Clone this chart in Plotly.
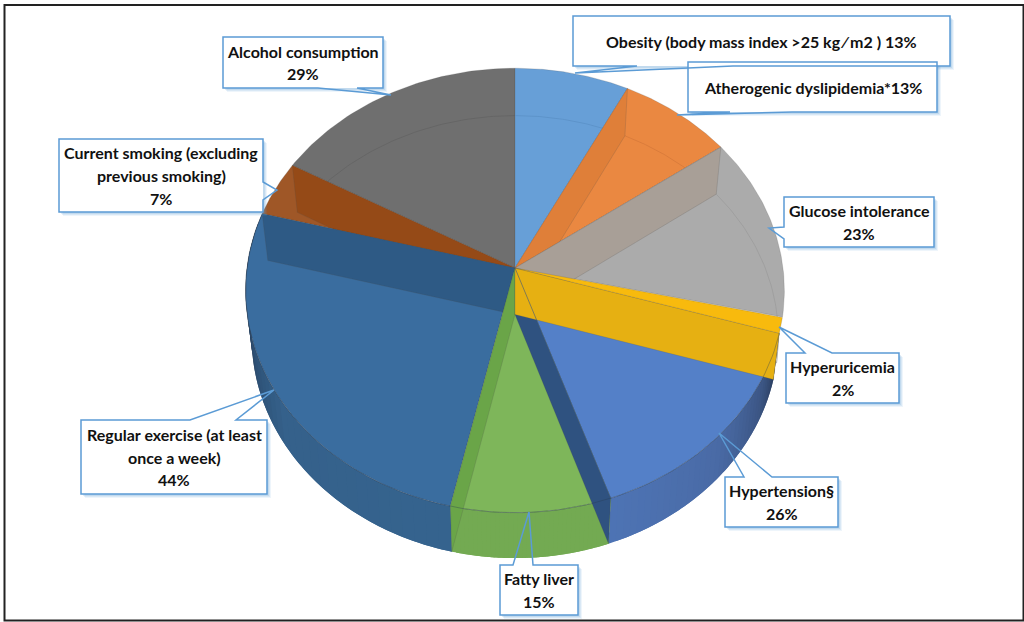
import numpy as np
import plotly.graph_objects as go

# ---------- data ----------
CATEGORIES = ["Obesity", "Atherogenic dyslipidemia", "Glucose intolerance", "Hyperuricemia",
              "Hypertension", "Fatty liver", "Regular exercise", "Current smoking",
              "Alcohol consumption"]
VALUES = [13, 13, 23, 2, 26, 15, 44, 7, 29]
LABEL_LINES = [
    ["Obesity (body mass index >25 kg \u2044 m2 ) 13%"],
    ["Atherogenic dyslipidemia*13%"],
    ["Glucose intolerance", "23%"],
    ["Hyperuricemia", "2%"],
    ["Hypertension\u00a7", "26%"],
    ["Fatty liver", "15%"],
    ["Regular exercise (at least", "once a week)", "44%"],
    ["Current smoking (excluding", "previous smoking)", "7%"],
    ["Alcohol consumption", "29%"],
]

# ---------- styles ----------
FACE = ["#679FD7", "#EA8841", "#ABABAB", "#F8BA0D", "#5480C8", "#7EB65A", "#3A6D9F", "#9F5727", "#6F6F6F"]
STRIP = [None, "#DF7F39", "#A89F97", "#E6B012", "#2F5280", "#6AA548", "#2E5A85", "#954A17", None]
ARC = {0: "#5A90C6", 1: "#D6783A", 2: "#9C9C9C", 8: "#636363"}
WALL = {
    4: [(106.7, "#2B3F60"), (118, "#3C5684"), (135, "#4A6BA6"), (161.2, "#4E74B5")],
    5: [(161.2, "#73AA52"), (192.6, "#73AA52")],
    6: [(192.6, "#36648F"), (235, "#35618B"), (252, "#2E5074"), (262, "#22364F"), (285, "#1A2739")],
}
EDGE = "rgba(80,80,80,0.28)"
CALLOUT = "#5B9BD5"

# geometry of the tilted disc
CX, APEX_TOP, APEX_BOT = 515, 268, 314.5
KP = 0.101


def top(t):
    t = np.radians(t); d = 1 + KP * np.cos(t)
    return CX + 268 * np.sin(t) / d, APEX_TOP - 220 * np.cos(t) / d


def bot(t):
    t = np.radians(t); d = 1 + KP * np.cos(t)
    return CX + 262 * np.sin(t) / d, APEX_BOT - 219 * np.cos(t) / d


cum = np.cumsum([0] + VALUES) / sum(VALUES) * 360
fig = go.Figure()


def poly(xs, ys, color, line=EDGE, width=0.7):
    fig.add_trace(go.Scatter(x=list(xs), y=list(ys), mode="lines", fill="toself", fillcolor=color,
                             line=dict(color=line, width=width),
                             hoverinfo="skip", showlegend=False))


def patch(xs, ys, color):
    fig.add_trace(go.Scatter(x=list(xs), y=list(ys), mode="none", fill="toself", fillcolor=color,
                             hoverinfo="skip", showlegend=False))


def stroke(xs, ys, color, width=0.8):
    fig.add_trace(go.Scatter(x=list(xs), y=list(ys), mode="lines", line=dict(color=color, width=width),
                             hoverinfo="skip", showlegend=False))


def sector(i):
    a = np.linspace(cum[i], cum[i + 1], 60)
    x, y = top(a)
    poly(np.r_[CX, x, CX], np.r_[APEX_TOP, y, APEX_TOP], FACE[i])


def strip(angle, color):
    tx, ty = top(angle); bx, by = bot(angle)
    poly([CX, tx, bx, CX, CX], [APEX_TOP, ty, by, APEX_BOT, APEX_TOP], color)


def inner_arc(i):
    a = np.linspace(cum[i], cum[i + 1], 60)
    x, y = bot(a)
    stroke(x, y, ARC[i])


def hex_rgb(h):
    return np.array([int(h[k:k + 2], 16) for k in (1, 3, 5)], float)


def wall(i):
    stops = WALL[i]
    edges = np.linspace(cum[i], cum[i + 1], 37)
    step = edges[1] - edges[0]
    pos = [s[0] for s in stops]
    rgb = np.array([hex_rgb(s[1]) for s in stops])
    # painted back to front, each patch overlapping the next, so that no seams show
    for a0 in edges[:-1][::-1]:
        a = np.linspace(max(a0 - step, cum[i]), a0 + step, 6)
        tx, ty = top(a); bx, by = bot(a)
        c = [int(np.interp(a0 + step / 2, pos, rgb[:, k])) for k in range(3)]
        patch(np.r_[tx, bx[::-1], tx[0]], np.r_[ty, by[::-1], ty[0]], "rgb(%d,%d,%d)" % tuple(c))


for i in (4, 5, 6):
    wall(i)

sector(8); inner_arc(8)
sector(0); inner_arc(0)
sector(1); inner_arc(1); strip(cum[1], STRIP[1])
sector(2); inner_arc(2); strip(cum[2], STRIP[2])
sector(7); strip(cum[8], STRIP[7])
sector(4)
sector(6); strip(cum[7], STRIP[6])
sector(5); strip(cum[6], STRIP[5])
strip(cum[5], STRIP[4])
strip(cum[4], STRIP[3])
sector(3)

# rim line of the upper face along the front
a = np.linspace(cum[4], cum[7], 120)
rx, ry = top(a)
stroke(rx, ry, "rgba(40,60,80,0.45)", 0.8)
tx, ty = top(cum[5])
stroke([CX, tx], [APEX_TOP, ty], "rgba(50,80,130,0.7)", 0.8)

# ---------- callouts: box x0,y0,x1,y1 / tail base A / tip / tail base B, in page pixels ----------
BOXES = [
    (573, 16, 950, 66, (637, 66), (575, 73), (733, 66)),
    (688, 62, 937, 112, (730, 112), (677, 115), (792, 112)),
    (784, 197, 934, 247, (784, 227), (769, 228), (784, 239)),
    (786, 353, 899, 403, (805, 353), (779, 327), (832, 353)),
    (725, 477, 838, 527, (744, 477), (719, 433), (772, 477)),
    (500, 565, 578, 615, (513, 565), (529, 512), (533, 565)),
    (81, 420, 267, 494, (190, 420), (274, 390), (236, 420)),
    (59, 139, 263, 212, (263, 182), (277, 190), (263, 200)),
    (223, 37, 383, 88, (318, 88), (391, 95), (357, 88)),
]
LINE_STEP = 22.6
FONT = dict(family="Lato, 'Open Sans', sans-serif", size=16, color="#111111")

shapes = []
for b in BOXES:
    x0, y0, x1, y1, *_ = b
    for off, op in ((4, 0.10), (3, 0.14), (2, 0.18)):
        shapes.append(dict(type="rect", x0=x0 + off, x1=x1 + off, y0=y0 + off, y1=y1 + off,
                           fillcolor="rgba(91,155,213,%.2f)" % op, line=dict(width=0), layer="above"))
for b in BOXES:
    x0, y0, x1, y1, *_ = b
    shapes.append(dict(type="rect", x0=x0, x1=x1, y0=y0, y1=y1, fillcolor="white",
                       line=dict(width=0), layer="above"))


def outline(b):
    x0, y0, x1, y1, pa, tip, pb = b
    if pa[1] == y0 and pb[1] == y0:
        seq = [(x0, y0), pa, tip, pb, (x1, y0), (x1, y1), (x0, y1)]
    elif pa[1] == y1 and pb[1] == y1:
        seq = [(x0, y0), (x1, y0), (x1, y1), pb, tip, pa, (x0, y1)]
    elif pa[0] == x1:
        seq = [(x0, y0), (x1, y0), pa, tip, pb, (x1, y1), (x0, y1)]
    else:
        seq = [(x0, y0), (x1, y0), (x1, y1), (x0, y1), pb, tip, pa]
    return "M" + " L".join("%g,%g" % p for p in seq) + " Z"


for b in BOXES:
    shapes.append(dict(type="path", path=outline(b), line=dict(color=CALLOUT, width=1.5),
                       fillcolor="rgba(0,0,0,0)", layer="above"))

# page frame
shapes.append(dict(type="rect", x0=4.5, y0=5, x1=1023.5, y1=620.5, line=dict(color="#222222", width=2),
                   fillcolor="rgba(0,0,0,0)", layer="above"))

annotations = []
for lines, b in zip(LABEL_LINES, BOXES):
    x0, y0, x1, y1, *_ = b
    xc, yc = (x0 + x1) / 2, (y0 + y1) / 2
    n = len(lines)
    for k, s in enumerate(lines):
        annotations.append(dict(x=xc, y=yc + (k - (n - 1) / 2) * LINE_STEP, text="<b>%s</b>" % s,
                                showarrow=False, font=FONT, xanchor="center", yanchor="middle"))

fig.update_layout(
    width=1024, height=622, margin=dict(l=0, r=0, t=0, b=0),
    paper_bgcolor="white", plot_bgcolor="white", showlegend=False,
    xaxis=dict(range=[0, 1024], visible=False, fixedrange=True),
    yaxis=dict(range=[622, 0], visible=False, fixedrange=True),
    shapes=shapes, annotations=annotations,
)
fig.write_html("out.html", config=dict(displayModeBar=False),
               post_script="document.body.style.margin='0';document.body.style.overflow='hidden';")
